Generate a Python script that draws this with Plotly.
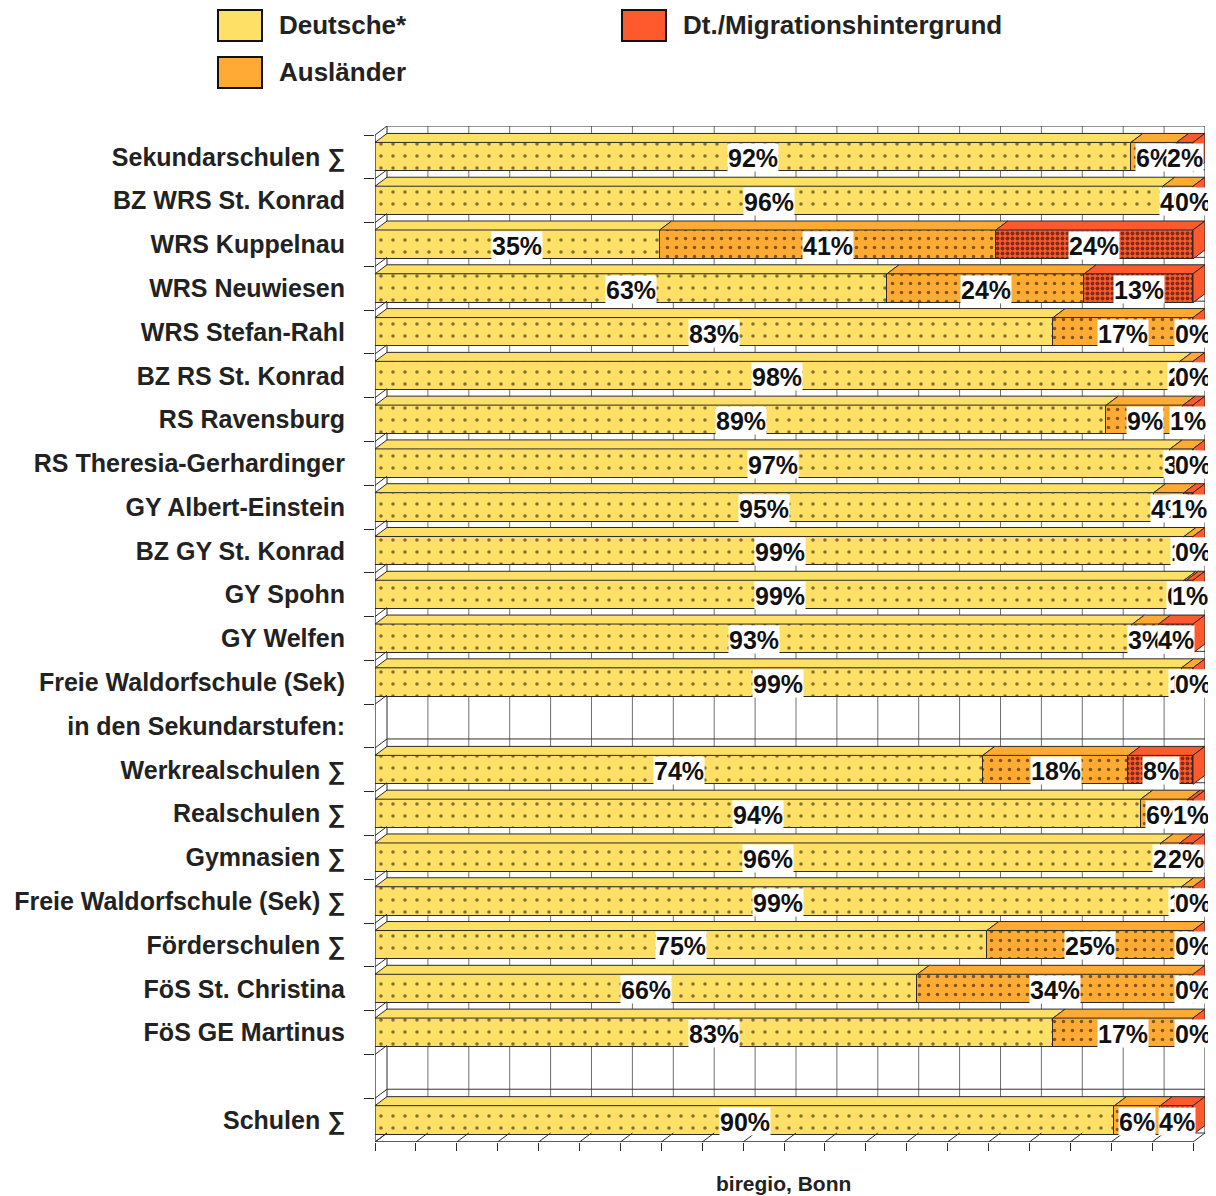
import plotly.graph_objects as go

# ---------------- data ----------------
categories = ["Sekundarschulen ∑", "BZ WRS St. Konrad", "WRS Kuppelnau", "WRS Neuwiesen",
              "WRS Stefan-Rahl", "BZ RS St. Konrad", "RS Ravensburg", "RS Theresia-Gerhardinger",
              "GY Albert-Einstein", "BZ GY St. Konrad", "GY Spohn", "GY Welfen",
              "Freie Waldorfschule (Sek)", "in den Sekundarstufen:", "Werkrealschulen ∑",
              "Realschulen ∑", "Gymnasien ∑", "Freie Waldorfschule (Sek) ∑", "Förderschulen ∑",
              "FöS St. Christina", "FöS GE Martinus", " ", "Schulen ∑"]
deutsche = [92.4, 96.3, 34.8, 62.6, 82.9, 98.4, 89.4, 97.2, 95.2, 98.9, 98.9, 92.6, 98.6, None,
            74.3, 93.6, 96.1, 98.6, 74.8, 66.3, 82.9, None, 90.4]
auslaender = [5.6, 3.7, 41.1, 24.1, 17.1, 1.6, 9.4, 2.8, 3.7, 1.1, 0.3, 3.2, 1.4, None,
              17.8, 5.8, 2.3, 1.4, 25.2, 33.7, 17.1, None, 5.6]
migration = [2.0, 0.0, 24.1, 13.3, 0.0, 0.0, 1.2, 0.0, 1.1, 0.0, 0.8, 4.2, 0.0, None,
             7.9, 0.6, 1.6, 0.0, 0.0, 0.0, 0.0, None, 4.0]
series_names = ["Deutsche*", "Ausländer", "Dt./Migrationshintergrund"]
value_ticks = list(range(0, 101, 5))
source_text = "biregio, Bonn"

# ---------------- styles ----------------
OFF = 8                                     # page body margin
W, H = 1216 - OFF, 1196 - OFF
X0, X1, Y0, Y1 = 375, 1193, 135, 1142      # front frame in page px
DX, DY = 12, 9                              # 3D depth in px
N = len(categories)
BARW = 0.66
colors = ["#FFE066", "#FFAA33", "#FF5A2E"]
patterns = [dict(shape=".", fgcolor="#000", size=12, solidity=0.07, fillmode="overlay"),
            dict(shape=".", fgcolor="#000", size=9, solidity=0.12, fillmode="overlay"),
            dict(shape=".", fgcolor="#000", size=5, solidity=0.5, fillmode="overlay")]
EDGE = "#2a2a2a"
GRID_V = "#707070"
GRID_H = "#333333"
TXT = "#222222"
MAIN_FONT = "Liberation Sans, Arial"


def fx(p):
    return (p - OFF) / W


def fy(p):
    return 1 - (p - OFF) / H


unit_y = (Y1 - Y0) / N
dxd = DX / (X1 - X0) * 100.0
dyd = DY / unit_y

fig = go.Figure()
values = [deutsche, auslaender, migration]
for k in range(3):
    fig.add_trace(go.Bar(
        y=categories, x=values[k], orientation="h", name=series_names[k],
        width=BARW, showlegend=False,
        marker=dict(color=colors[k], line=dict(color=EDGE, width=1), pattern=patterns[k]),
        hoverinfo="x+y+name"))

shapes = []
annotations = []

# back wall: value gridlines and category boundary lines (behind the bars)
for t in value_ticks:
    shapes.append(dict(type="line", xref="x", yref="y", layer="below",
                       x0=t + dxd, x1=t + dxd, y0=-0.5 - dyd, y1=N - 0.5 - dyd,
                       line=dict(color=EDGE if t in (0, 100) else GRID_V, width=1)))
for b in range(N + 1):
    shapes.append(dict(type="line", xref="x", yref="y", layer="below",
                       x0=dxd, x1=100 + dxd, y0=b - 0.5 - dyd, y1=b - 0.5 - dyd,
                       line=dict(color=GRID_H, width=1)))

h = BARW / 2
for i, cat in enumerate(categories):
    if deutsche[i] is None:
        continue
    s = 0.0
    for k in range(3):
        v = values[k][i]
        if v > 0:
            # top face
            shapes.append(dict(
                type="path", xref="x", yref="y", layer="above",
                path=(f"M{s},{i - h} L{s + v},{i - h} L{s + v + dxd},{i - h - dyd} "
                      f"L{s + dxd},{i - h - dyd} Z"),
                fillcolor=colors[k], line=dict(color=EDGE, width=1)))
        s += v
    # right side face
    shapes.append(dict(
        type="path", xref="x", yref="y", layer="above",
        path=(f"M{s},{i - h} L{s + dxd},{i - h - dyd} L{s + dxd},{i + h - dyd} "
              f"L{s},{i + h} Z"),
        fillcolor=colors[2], line=dict(color=EDGE, width=1)))
    # labels
    s = 0.0
    for k in range(3):
        v = values[k][i]
        annotations.append(dict(
            x=s + v / 2, y=cat, xref="x", yref="y", text=f"{round(v)}%",
            showarrow=False, bgcolor="white", borderpad=0, height=27, yshift=-1,
            font=dict(family=MAIN_FONT, size=25, color="#111", weight="bold")))
        s += v

# left wall diagonals at category boundaries
for b in range(N + 1):
    yb = b - 0.5
    shapes.append(dict(type="line", xref="x", yref="y", layer="above",
                       x0=0, y0=yb, x1=dxd, y1=yb - dyd, line=dict(color=EDGE, width=1)))
# floor diagonals at value ticks
for t in value_ticks:
    shapes.append(dict(type="line", xref="x", yref="y", layer="above",
                       x0=t, y0=N - 0.5, x1=t + dxd, y1=N - 0.5 - dyd,
                       line=dict(color=EDGE, width=1)))
# front edges (left axis line and floor front edge)
shapes.append(dict(type="line", xref="x", yref="y", layer="above",
                   x0=0, y0=-0.5, x1=0, y1=N - 0.5, line=dict(color=EDGE, width=1.3)))
shapes.append(dict(type="line", xref="x", yref="y", layer="above",
                   x0=0, y0=N - 0.5, x1=100, y1=N - 0.5, line=dict(color=EDGE, width=1.3)))

# legend (custom, big swatches)
leg_items = [(0, 218, 10), (2, 622, 10), (1, 218, 57)]
for k, lx, ly in leg_items:
    shapes.append(dict(type="rect", xref="paper", yref="paper",
                       x0=fx(lx), x1=fx(lx + 44), y0=fy(ly + 31), y1=fy(ly),
                       fillcolor=colors[k], line=dict(color="#111", width=2)))
    annotations.append(dict(x=fx(lx + 59), y=fy(ly + 15.5), xref="paper", yref="paper",
                            text=series_names[k], showarrow=False, xanchor="left",
                            yanchor="middle",
                            font=dict(family=MAIN_FONT, size=26, color=TXT, weight="bold")))

annotations.append(dict(x=fx(783), y=fy(1183), xref="paper", yref="paper", text=source_text,
                        showarrow=False, xanchor="center", yanchor="middle",
                        font=dict(family=MAIN_FONT, size=21, color=TXT, weight="bold")))

fig.update_layout(
    width=W, height=H, margin=dict(l=0, r=0, t=0, b=0),
    paper_bgcolor="white", plot_bgcolor="white",
    barmode="stack", bargap=0, showlegend=False,
    xaxis=dict(domain=[fx(X0), fx(X1 + DX)], range=[0, 100 + dxd],
               showgrid=False, showline=False, zeroline=False, showticklabels=False,
               ticks="outside", ticklen=8, tickcolor=EDGE, tickwidth=1,
               tickmode="array", tickvals=value_ticks),
    yaxis=dict(domain=[fy(Y1), fy(Y0 - DY)], range=[N - 0.5, -0.5 - dyd],
               type="category", categoryorder="array", categoryarray=categories,
               tickson="boundaries", ticks="outside", ticklen=10, tickcolor=EDGE,
               showgrid=False, showline=False, zeroline=False, automargin=False,
               ticklabelstandoff=29,
               tickfont=dict(family=MAIN_FONT, size=25, color=TXT, weight="bold")),
    shapes=shapes, annotations=annotations,
)

fig.write_html("out.html")
